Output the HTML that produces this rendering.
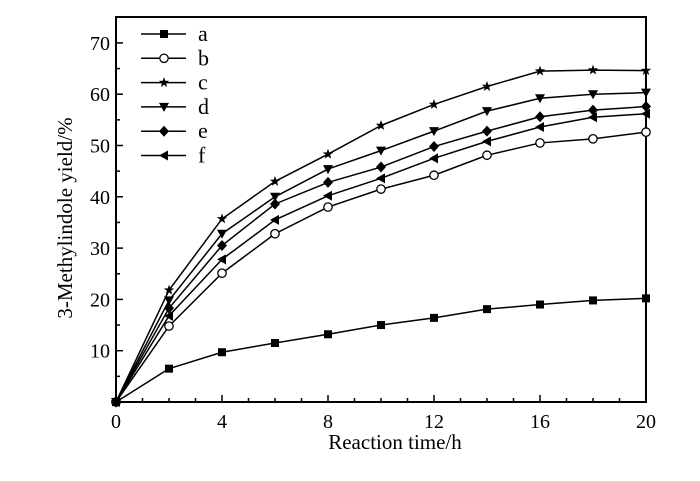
<!DOCTYPE html>
<html><head><meta charset="utf-8"><style>body{margin:0;background:#fff}svg{display:block;font-family:"Liberation Serif",serif}</style></head>
<body>
<svg id="chart" width="700" height="481" viewBox="0 0 700 481"></svg>
<script>
const times=[0,2,4,6,8,10,12,14,16,18,20];
const seriesNames=['a','b','c','d','e','f'];
const sA=[0,6.5,9.7,11.5,13.2,15,16.4,18.1,19,19.8,20.2];
const sB=[0,14.8,25.1,32.8,38,41.5,44.2,48.1,50.5,51.3,52.6];
const sC=[0,21.8,35.7,43,48.3,53.9,58,61.5,64.5,64.7,64.6];
const sD=[0,19.8,32.8,40,45.4,49,52.8,56.7,59.2,60,60.3];
const sE=[0,18.3,30.5,38.6,42.8,45.8,49.8,52.8,55.6,56.9,57.6];
const sF=[0,16.8,27.8,35.5,40.2,43.6,47.5,50.8,53.6,55.5,56.2];
const xTicks=[0,4,8,12,16,20];
const yTicks=[10,20,30,40,50,60,70];
const allSeries=[sA,sB,sC,sD,sE,sF];
const markers=['square','circle','star','down','diamond','left'];
const NS='http://www.w3.org/2000/svg';
const svg=document.getElementById('chart');
const X0=116,X1=646,Y0=402,YT=17;
const xs=v=>X0+(v/20)*(X1-X0);
const ys=v=>Y0-(v/10)*51.3;
function el(t,a,p){const e=document.createElementNS(NS,t);for(const k in a)e.setAttribute(k,a[k]);(p||svg).appendChild(e);return e;}
const frame=el('rect',{x:X0,y:YT,width:X1-X0,height:Y0-YT,fill:'none',stroke:'#000','stroke-width':2});


for(let v=0;v<=20;v+=1){const big=v%4===0;const t=el('line',{x1:xs(v),x2:xs(v),y1:Y0,y2:Y0-(big?7:4),stroke:'#000','stroke-width':1.5});

}
for(let v=5;v<=70;v+=5){const big=v%10===0;const t=el('line',{x1:X0,x2:X0+(big?7:4),y1:ys(v),y2:ys(v),stroke:'#000','stroke-width':1.5});

}
xTicks.forEach(v=>{const t=el('text',{x:xs(v),y:Y0+26,'text-anchor':'middle','font-size':20});t.textContent=v;

});
yTicks.forEach(v=>{const t=el('text',{x:X0-6,y:ys(v)+7,'text-anchor':'end','font-size':20});t.textContent=v;

});
const xt=el('text',{x:395,y:449,'text-anchor':'middle','font-size':21});xt.textContent='Reaction time/h';


const yt=el('text',{x:0,y:0,'text-anchor':'middle','font-size':21,transform:'translate(72,218) rotate(-90)'});yt.textContent='3-Methylindole yield/%';


function marker(type,x,y,g){
 const s=5;
 if(type==='square')return el('rect',{x:x-4,y:y-4,width:8,height:8,fill:'#000'},g);
 if(type==='circle')return el('circle',{cx:x,cy:y,r:4.2,fill:'#fff',stroke:'#000','stroke-width':1.3},g);
 if(type==='down')return el('polygon',{points:`${x-s},${y-4} ${x+s},${y-4} ${x},${y+5}`,fill:'#000'},g);
 if(type==='diamond')return el('polygon',{points:`${x},${y-5.5} ${x+5},${y} ${x},${y+5.5} ${x-5},${y}`,fill:'#000'},g);
 if(type==='left')return el('polygon',{points:`${x+4},${y-5} ${x+4},${y+5} ${x-5},${y}`,fill:'#000'},g);
 let p=[];for(let i=0;i<10;i++){const r=i%2?2.2:5.5,a=-Math.PI/2+i*Math.PI/5;p.push((x+r*Math.cos(a)).toFixed(1)+','+(y+r*Math.sin(a)).toFixed(1));}
 return el('polygon',{points:p.join(' '),fill:'#000'},g);
}
allSeries.forEach((d,i)=>{
 const g=el('g',{});
 
 
 el('polyline',{points:d.map((v,j)=>xs(times[j])+','+ys(v)).join(' '),fill:'none',stroke:'#000','stroke-width':1.5},g);
 d.forEach((v,j)=>marker(markers[i],xs(times[j]),ys(v),g));
 const ly=34+i*24.3;
 const lg=el('g',{});
 
 
 el('line',{x1:141,x2:186,y1:ly,y2:ly,stroke:'#000','stroke-width':1.5},lg);
 marker(markers[i],164,ly,lg);
 const t=el('text',{x:198,y:ly+7,'font-size':22},lg);t.textContent=seriesNames[i];
});
</script>
</body></html>
